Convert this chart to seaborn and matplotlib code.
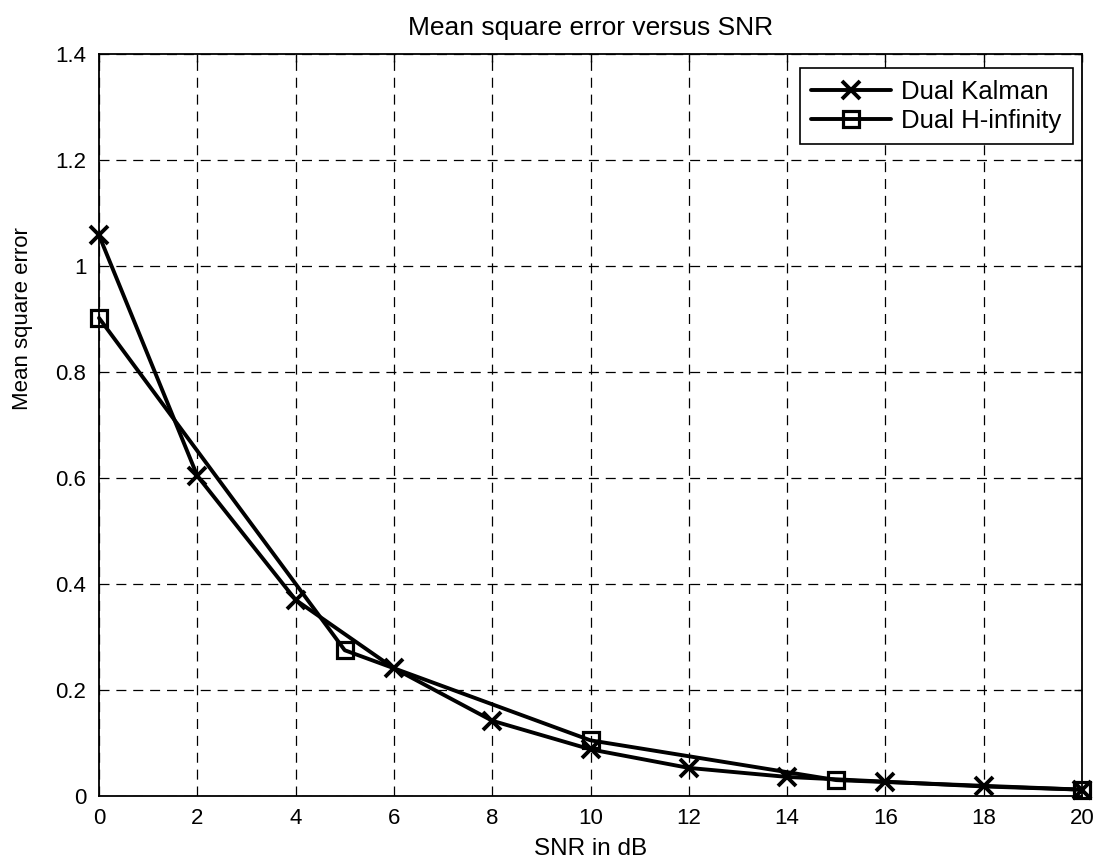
import matplotlib
matplotlib.use("Agg")
import matplotlib.pyplot as plt
import seaborn as sns
import pandas as pd

snr_kalman = [0, 2, 4, 6, 8, 10, 12, 14, 16, 18, 20]
mse_kalman = [1.058, 0.604, 0.370, 0.241, 0.142, 0.088, 0.053, 0.036, 0.027, 0.018, 0.012]
snr_hinf = [0, 5, 10, 15, 20]
mse_hinf = [0.902, 0.275, 0.105, 0.030, 0.012]
series_names = ["Dual Kalman", "Dual H-infinity"]
x_ticks = [0, 2, 4, 6, 8, 10, 12, 14, 16, 18, 20]
y_ticks = [0, 0.2, 0.4, 0.6, 0.8, 1.0, 1.2, 1.4]
y_ticklabels = ["0", "0.2", "0.4", "0.6", "0.8", "1", "1.2", "1.4"]

sns.set_style("white")
plt.rcParams["font.family"] = ["Liberation Sans", "DejaVu Sans"]
plt.rcParams["text.color"] = "black"
plt.rcParams["axes.labelcolor"] = "black"
plt.rcParams["xtick.color"] = "black"
plt.rcParams["ytick.color"] = "black"

fig = plt.figure(figsize=(11.04, 8.67), dpi=100)
ax = fig.add_axes([99 / 1104, 1 - 796 / 867, (1082 - 99) / 1104, (796 - 54) / 867])

df_k = pd.DataFrame({"snr": snr_kalman, "mse": mse_kalman})
df_h = pd.DataFrame({"snr": snr_hinf, "mse": mse_hinf})

sns.lineplot(data=df_k, x="snr", y="mse", ax=ax, color="black", linewidth=2.8,
             marker="x", markersize=13, markeredgewidth=2.8, markeredgecolor="black",
             label=series_names[0], clip_on=False, zorder=3)
sns.lineplot(data=df_h, x="snr", y="mse", ax=ax, color="black", linewidth=2.8,
             marker="s", markersize=12, markeredgewidth=2.3, markerfacecolor="none",
             markeredgecolor="black", label=series_names[1], clip_on=False, zorder=3)

ax.set_xlim(0, 20)
ax.set_ylim(0, 1.4)
ax.set_xticks(x_ticks)
ax.set_yticks(y_ticks)
ax.set_yticklabels(y_ticklabels)
ax.tick_params(direction="in", length=6, width=1, colors="black", labelsize=16,
               top=True, right=True, pad=9)
ax.grid(True, color="black", linestyle=(0, (8, 5.5)), linewidth=0.9)
for s in ax.spines.values():
    s.set_color("black")
    s.set_linewidth(1.3)

ax.set_title("Mean square error versus SNR", fontsize=19, pad=14, color="black")
ax.set_xlabel("SNR in dB", fontsize=17.5, labelpad=6, color="black")
ax.set_ylabel("Mean square error", fontsize=16, color="black")
ax.yaxis.set_label_coords(-0.067, 0.643)

leg = ax.legend(loc="upper right", bbox_to_anchor=(0.991, 0.981), borderaxespad=0,
                fontsize=18.5, frameon=True, fancybox=False,
                edgecolor="black", framealpha=1,
                handlelength=3.1, handletextpad=0.4, borderpad=0.45, labelspacing=0.2)
leg.get_frame().set_linewidth(1.2)
for t in leg.get_texts():
    t.set_color("black")

fig.savefig("out.png", dpi=100)
